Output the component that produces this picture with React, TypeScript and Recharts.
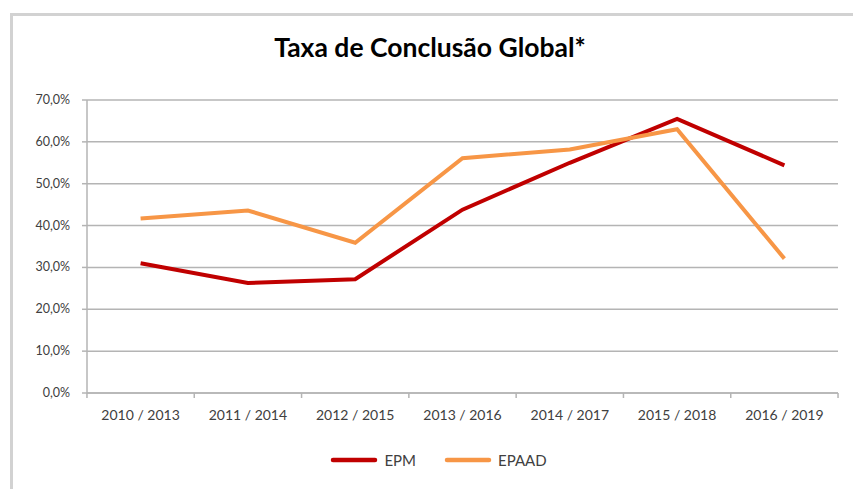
import React from "react";
import { LineChart, Line, XAxis, YAxis, CartesianGrid, Legend } from "recharts";

const periods = [
  "2010 / 2013",
  "2011 / 2014",
  "2012 / 2015",
  "2013 / 2016",
  "2014 / 2017",
  "2015 / 2018",
  "2016 / 2019",
];
const epm = [31.0, 26.3, 27.2, 43.8, 55.0, 65.5, 54.4];
const epaad = [41.7, 43.6, 35.9, 56.1, 58.2, 63.0, 32.1];
const yTicks = [0, 10, 20, 30, 40, 50, 60, 70];

const data = periods.map((p, i) => ({ period: p, EPM: epm[i], EPAAD: epaad[i] }));

const FONT = "Lato, 'Liberation Sans', sans-serif";
const GRID = "#b4b4b4";
const TEXT = "#404040";

const fmt = (v: number) => v.toFixed(1).replace(".", ",") + "%";

// Excel puts the x ticks between the categories, so draw the marks at the band edges
function PeriodTick(props: any) {
  const { x, y, payload, width, visibleTicksCount, index } = props;
  const half = width / visibleTicksCount / 2;
  const axisY = y - 8;
  return (
    <g>
      <line x1={x - half} x2={x - half} y1={axisY} y2={axisY + 5} stroke={GRID} strokeWidth={1.5} />
      {index === visibleTicksCount - 1 && (
        <line x1={x + half} x2={x + half} y1={axisY} y2={axisY + 5} stroke={GRID} strokeWidth={1.5} />
      )}
      <text x={x} y={axisY + 27} textAnchor="middle" fill={TEXT} fontSize={14} fontFamily={FONT}>
        {payload.value}
      </text>
    </g>
  );
}

function PercentTick(props: any) {
  const { x, y, payload } = props;
  return (
    <text x={x - 10} y={y + 4} textAnchor="end" fill={TEXT} fontSize={12.5} fontFamily={FONT}>
      {fmt(payload.value)}
    </text>
  );
}

function LegendContent({ payload }: any) {
  const order = ["EPM", "EPAAD"];
  const items = [...(payload ?? [])].sort((a: any, b: any) => order.indexOf(a.value) - order.indexOf(b.value));
  return (
    <div style={{ display: "flex", justifyContent: "center", fontFamily: FONT, fontSize: 15, color: TEXT, paddingLeft: 24 }}>
      {items.map((e: any) => (
        <div key={e.value} style={{ display: "flex", alignItems: "center", margin: "0 14px" }}>
          <svg width={48} height={8} style={{ marginRight: 6 }}>
            <line x1={3} x2={45} y1={4} y2={4} stroke={e.color} strokeWidth={4.5} strokeLinecap="round" />
          </svg>
          <span>{e.value}</span>
        </div>
      ))}
    </div>
  );
}

export default function App() {
  return (
    <div style={{ position: "absolute", left: 0, top: 0, width: 853, height: 489, background: "#fff", overflow: "hidden" }}>
      <div
        style={{
          position: "absolute",
          left: 10,
          top: 13,
          width: 900,
          height: 520,
          borderLeft: "3px solid #d2d2d2",
          borderTop: "3px solid #d2d2d2",
        }}
      />
      <div
        style={{
          position: "absolute",
          left: 0,
          width: 860,
          top: 31,
          textAlign: "center",
          fontFamily: FONT,
          fontWeight: 700,
          fontSize: 26.5,
          color: "#000",
        }}
      >
        Taxa de Conclusão Global*
      </div>
      <div style={{ position: "absolute", left: 0, top: 0 }}>
        <LineChart width={853} height={489} data={data} margin={{ top: 100, right: 15, bottom: 66, left: 0 }}>
          <CartesianGrid vertical={false} stroke={GRID} strokeWidth={1.5} />
          <XAxis
            dataKey="period"
            padding={{ left: 53.6, right: 53.6 }}
            axisLine={{ stroke: GRID, strokeWidth: 1.5 }}
            tickLine={false}
            tick={<PeriodTick />}
            interval={0}
            height={30}
          />
          <YAxis
            width={87}
            domain={[0, 70]}
            ticks={yTicks}
            axisLine={{ stroke: GRID, strokeWidth: 1.5 }}
            tickLine={{ stroke: GRID, strokeWidth: 1.5 }}
            tickSize={5}
            tick={<PercentTick />}
          />
          <Line dataKey="EPM" stroke="#c00000" strokeWidth={4} dot={false} isAnimationActive={false} />
          <Line dataKey="EPAAD" stroke="#f79646" strokeWidth={4} dot={false} isAnimationActive={false} />
          <Legend verticalAlign="middle" wrapperStyle={{ top: 451, left: 0, width: 853 }} content={<LegendContent />} />
        </LineChart>
      </div>
    </div>
  );
}
